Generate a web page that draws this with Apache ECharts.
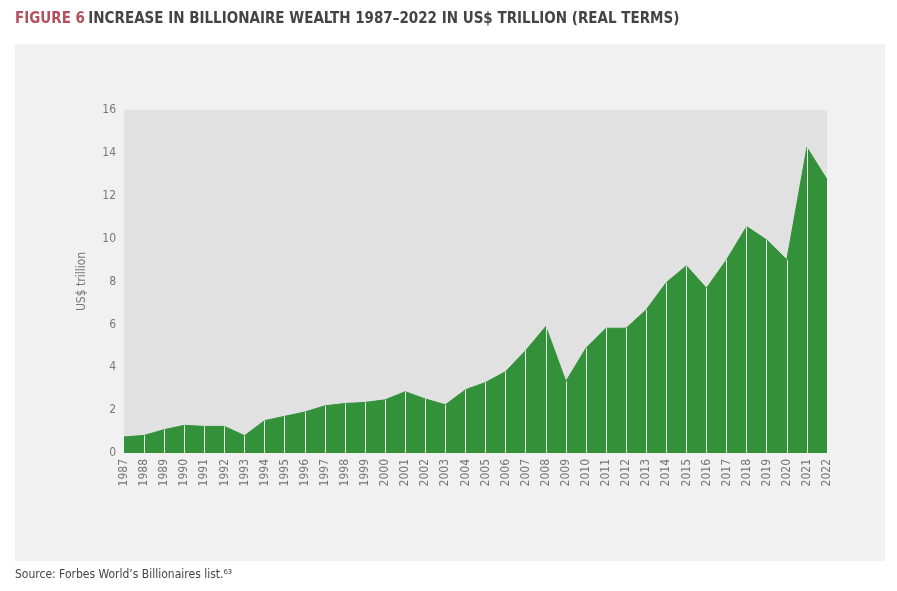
<!DOCTYPE html>
<html><head><meta charset="utf-8">
<script src="https://cdn.jsdelivr.net/npm/echarts@6/dist/echarts.min.js"></script>
<style>html,body{margin:0;background:#fff}#c{width:897px;height:591px}</style>
</head><body><div id="c"></div>
<script>
const years = ['1987','1988','1989','1990','1991','1992','1993','1994','1995','1996','1997','1998','1999','2000','2001','2002','2003','2004','2005','2006','2007','2008','2009','2010','2011','2012','2013','2014','2015','2016','2017','2018','2019','2020','2021','2022'];
const wealth = [0.75,0.82,1.09,1.29,1.24,1.24,0.81,1.51,1.71,1.91,2.2,2.31,2.36,2.48,2.86,2.52,2.25,2.95,3.29,3.8,4.78,5.9,3.34,4.89,5.82,5.82,6.68,7.95,8.73,7.69,9.01,10.56,9.94,9.01,14.25,12.76];
const yTicks = [0,2,4,6,8,10,12,14,16];
const font = '"DejaVu Sans Condensed", "Liberation Sans Narrow", sans-serif';
const chart = echarts.init(document.getElementById('c'));
chart.setOption({
  animation:false,
  graphic:[
    {type:'rect',shape:{x:15,y:44,width:870,height:517},style:{fill:'#f1f1f1'},z:-10},
    {type:'text',left:15,top:12,style:{rich:{r:{fill:'#b5505e',font:'bold 15px '+font},d:{fill:'#444',font:'bold 15px '+font}},text:'{r|FIGURE 6} {d|INCREASE IN BILLIONAIRE WEALTH 1987–2022 IN US$ TRILLION (REAL TERMS)}'}},
    {type:'text',left:15,top:569,style:{text:'Source: Forbes World’s Billionaires list.⁶³',fill:'#444',font:'12px '+font}}
  ],
  grid:{left:124,right:70,top:110,bottom:138,show:true,backgroundColor:'#e1e1e1',borderWidth:0},
  xAxis:{type:'category',data:years,boundaryGap:false,
    axisLine:{show:false},axisTick:{show:false},
    axisLabel:{rotate:90,color:'#777',fontFamily:font,fontSize:12,margin:6,interval:0}},
  yAxis:{type:'value',min:0,max:16,interval:2,
    name:'US$ trillion',nameLocation:'middle',nameGap:36,nameTextStyle:{color:'#777',fontFamily:font,fontSize:12},
    axisLabel:{color:'#777',fontFamily:font,fontSize:12,formatter:v=>yTicks.includes(v)?String(v):''},
    splitLine:{show:false},axisLine:{show:false},axisTick:{show:false}},
  series:[{type:'line',data:wealth,symbol:'none',lineStyle:{width:1,color:'#33913a'},
    areaStyle:{color:'#33913a',opacity:1},
    markLine:{silent:true,symbol:'none',label:{show:false},lineStyle:{color:'#e8e8e8',width:1,type:'solid'},
      data:years.slice(1,-1).map((y,i)=>[{coord:[y,0]},{coord:[y,wealth[i+1]]}])}}]
});
</script></body></html>
